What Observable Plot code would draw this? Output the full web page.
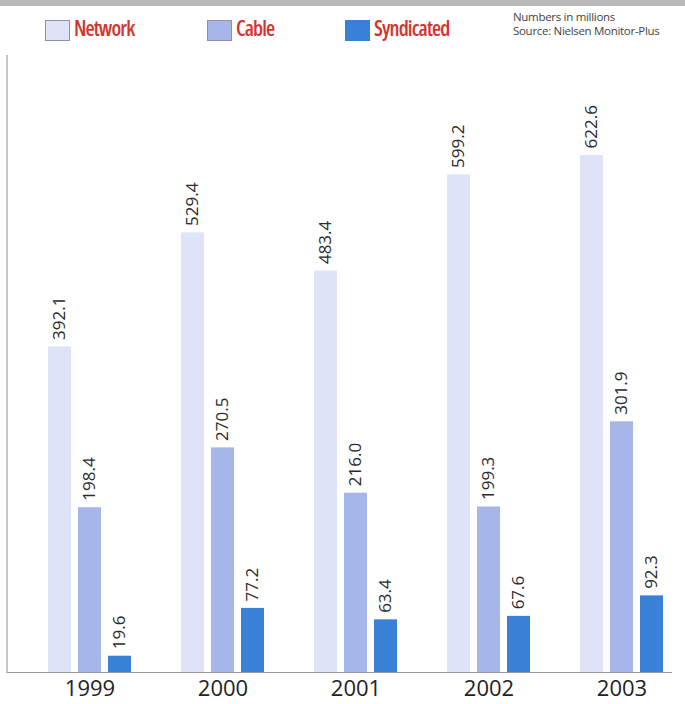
<!DOCTYPE html>
<html>
<head>
<meta charset="utf-8">
<script src="https://cdn.jsdelivr.net/npm/d3@7"></script>
<script src="https://cdn.jsdelivr.net/npm/@observablehq/plot@0.6"></script>
<style>
  body { margin: 0; background: #fff; font-family: "Open Sans", sans-serif; }
  #wrap { position: relative; width: 685px; height: 704px; overflow: hidden; }
  #topstrip { position: absolute; left: 0; top: 0; width: 685px; height: 6px; background: #b9b9b9; }
  #legend { position: absolute; left: 0; top: 6px; width: 685px; height: 49px; }
  .sw { position: absolute; top: 14px; width: 25px; height: 21px; box-sizing: border-box; border: 1px solid #8f8fa8; }
  .lt { position: absolute; top: 8px; font-family: "Open Sans", sans-serif; font-stretch: condensed; font-weight: 600; font-size: 21px; color: #d2342e; letter-spacing: -0.9px; }
  .note { position: absolute; left: 513px; font-size: 11.5px; color: #444; letter-spacing: -0.3px; line-height: 13px; white-space: nowrap; }
  #chart { position: absolute; left: 0; top: 55px; }
  #frame { position: absolute; border-left: 2px solid #c8c8c8; border-bottom: 1.5px solid #9a9a9a; }
</style>
</head>
<body>
<div id="wrap">
  <div id="topstrip"></div>
  <div id="legend"></div>
  <div id="frame"></div>
  <div id="chart"></div>
</div>
<script>
const years = ["1999", "2000", "2001", "2002", "2003"];
const seriesNames = ["Network", "Cable", "Syndicated"];
const network = [392.1, 529.4, 483.4, 599.2, 622.6];
const cable = [198.4, 270.5, 216.0, 199.3, 301.9];
const syndicated = [19.6, 77.2, 63.4, 67.6, 92.3];
const colors = ["#dfe3f7", "#a7b6ea", "#3a80d6"];
const noteLines = ["Numbers in millions", "Source: Nielsen Monitor-Plus"];

const valuesBySeries = [network, cable, syndicated];
const data = [];
years.forEach((yr, i) => {
  seriesNames.forEach((s, j) => {
    data.push({year: yr, series: s, value: valuesBySeries[j][i]});
  });
});

// Legend
const legend = document.getElementById("legend");
const swX = [45, 207, 345];
const txX = [74, 236, 374];
seriesNames.forEach((s, j) => {
  const sw = document.createElement("div");
  sw.className = "sw";
  sw.style.left = swX[j] + "px";
  sw.style.background = colors[j];
  if (j === 2) sw.style.border = "none";
  legend.appendChild(sw);
  const t = document.createElement("div");
  t.className = "lt";
  t.style.left = txX[j] + "px";
  t.textContent = s;
  legend.appendChild(t);
});
noteLines.forEach((n, k) => {
  const d = document.createElement("div");
  d.className = "note";
  d.style.top = (4 + k * 14) + "px";
  d.textContent = n;
  legend.appendChild(d);
});

const H = 649;
const plot = Plot.plot({
  width: 685,
  height: H,
  marginLeft: 46,
  marginRight: 20,
  marginTop: 100,
  marginBottom: 32,
  style: {fontFamily: "Open Sans, sans-serif", background: "transparent"},
  fx: {domain: years, paddingInner: 0.363, paddingOuter: 0, label: null},
  x: {domain: seriesNames, paddingInner: 0.23, paddingOuter: 0, axis: null},
  y: {domain: [0, 622.6], axis: null},
  color: {domain: seriesNames, range: colors},
  marks: [
    Plot.axisFx({anchor: "bottom", tickSize: 0, tickPadding: 8, fontSize: 22, fill: "#222", label: null}),
    Plot.barY(data, {fx: "year", x: "series", y: "value", fill: "series"}),
    Plot.text(data, {
      fx: "year", x: "series", y: "value",
      text: d => d.value.toFixed(1),
      rotate: -90, textAnchor: "start", lineAnchor: "middle",
      dy: -7, fontSize: 17, fill: "#2b2b2b"
    })
  ]
});
document.getElementById("chart").appendChild(plot);

// frame lines (left border and baseline) aligned to y=0
const y0 = plot.scale("y").apply(0);
const frame = document.getElementById("frame");
frame.style.left = "6px";
frame.style.top = "55px";
frame.style.width = "664px";
frame.style.height = (y0) + "px";
</script>
</body>
</html>
